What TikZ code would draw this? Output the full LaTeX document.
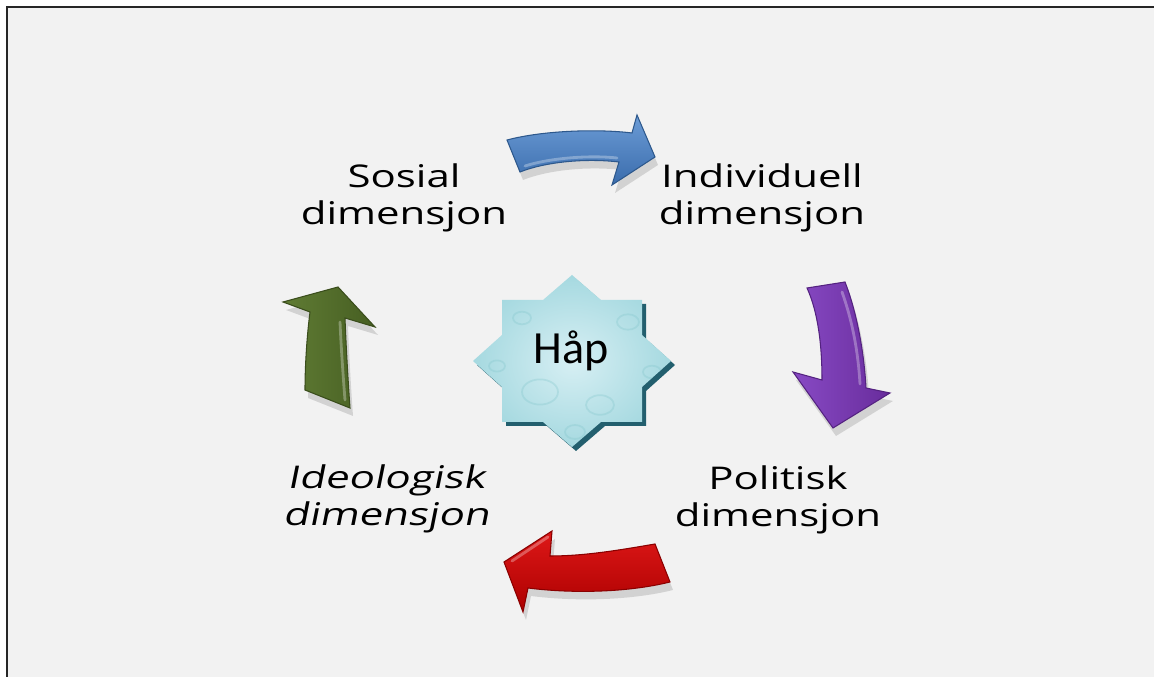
\documentclass[tikz,border=0pt]{standalone}
\usepackage{fontspec}
\newfontfamily\dimfont[FakeStretch=1.34]{Open Sans}
\newfontfamily\dimslfont[FakeStretch=1.34,FakeSlant=0.2]{Open Sans}
\newfontfamily\hapfont{Carlito}
\definecolor{bgcol}{HTML}{F2F2F2}
\definecolor{starcol}{HTML}{B6E2EA}
\definecolor{starshade}{HTML}{235F6E}
\definecolor{bluetop}{RGB}{108,156,214}
\definecolor{bluebot}{RGB}{58,108,172}
\definecolor{blueline}{RGB}{45,88,140}
\definecolor{purpleleft}{RGB}{136,74,196}
\definecolor{purpleright}{RGB}{104,44,156}
\definecolor{purpleline}{RGB}{84,34,128}
\definecolor{redtop}{RGB}{222,24,24}
\definecolor{redbot}{RGB}{172,0,0}
\definecolor{redline}{RGB}{138,0,0}
\definecolor{greenleft}{RGB}{96,124,52}
\definecolor{greenright}{RGB}{70,94,34}
\definecolor{greenline}{RGB}{58,77,28}
\tikzset{
  arrowshadow/.style={fill=black, opacity=0.13},
  dimlabel/.style={align=center, inner sep=0pt, font=\dimfont\fontsize{8.9}{10.6}\selectfont},
  dimslanted/.style={dimlabel, font=\dimslfont\fontsize{8.9}{10.6}\selectfont},
  highlight/.style={white, opacity=0.3, line width=0.8pt, line cap=round}
}
\begin{document}
\begin{tikzpicture}[x=0.01cm, y=-0.01cm]
			\useasboundingbox (0,0) rectangle (1154,677);
			\fill[white] (0,0) rectangle (1154,677);
			\fill[bgcol] (7,7) rectangle (1154,677);
			\draw[line width=0.6pt, black!85] (7,677) -- (7,7) -- (1154,7);

			\begin{scope}[every node/.style={dimlabel}]
				\node (sosial) at (404,198) {Sosial\\dimensjon};
				\node (individuell) at (762,198) {Individuell\\dimensjon};
				\node (politisk) at (778,500) {Politisk\\dimensjon};
				\node[dimslanted] (ideologisk) at (386,499) {Ideologisk\\dimensjon};
			\end{scope}

			\begin{scope}[shift={(3,8)}]
				\fill[arrowshadow] (507,140) .. controls (545,130) and (600,129) .. (632,133) -- (637,115) -- (655,157) -- (612,185) -- (619,162) .. controls (585,158) and (545,162) .. (520,172) -- cycle;
				\fill[arrowshadow] (807,288) -- (845,282) .. controls (856,310) and (864,350) .. (866,388) -- (890,393) -- (833,428) -- (793,372) -- (822,380) .. controls (822,345) and (818,312) .. (807,288) -- cycle;
				\fill[arrowshadow] (655,544) .. controls (620,550) and (585,556) .. (550,556) -- (552,531) -- (504,562) -- (523,612) -- (528,588) .. controls (575,594) and (630,592) .. (670,582) -- cycle;
				\fill[arrowshadow] (305,390) .. controls (305,365) and (307,335) .. (310,312) -- (283,302) -- (338,287) -- (375,327) -- (345,318) .. controls (346,345) and (348,380) .. (350,408) -- cycle;
			\end{scope}

			\draw[top color=bluetop, bottom color=bluebot, draw=blueline, line width=0.3pt]
				(507,140) .. controls (545,130) and (600,129) .. (632,133) -- (637,115) -- (655,157) -- (612,185) -- (619,162) .. controls (585,158) and (545,162) .. (520,172) -- cycle;
			\draw[highlight] (525,166) .. controls (550,158) and (590,155) .. (617,158);

			\draw[left color=purpleleft, right color=purpleright, draw=purpleline, line width=0.3pt]
				(807,288) -- (845,282) .. controls (856,310) and (864,350) .. (866,388) -- (890,393) -- (833,428) -- (793,372) -- (822,380) .. controls (822,345) and (818,312) .. (807,288) -- cycle;
			\draw[highlight] (842,292) .. controls (852,320) and (858,350) .. (860,384);

			\draw[top color=redtop, bottom color=redbot, draw=redline, line width=0.3pt]
				(655,544) .. controls (620,550) and (585,556) .. (550,556) -- (552,531) -- (504,562) -- (523,612) -- (528,588) .. controls (575,594) and (630,592) .. (670,582) -- cycle;
			\draw[highlight] (548,537) -- (512,561);

			\draw[left color=greenleft, right color=greenright, draw=greenline, line width=0.3pt]
				(305,390) .. controls (305,365) and (307,335) .. (310,312) -- (283,302) -- (338,287) -- (375,327) -- (345,318) .. controls (346,345) and (348,380) .. (350,408) -- cycle;
			\draw[highlight] (340,322) .. controls (341,345) and (343,375) .. (345,400);

			\fill[starshade, shift={(4,4)}] (572,275) -- (601,300) -- (642,300) -- (642,335) -- (671,361) -- (642,387) -- (642,422) -- (601,422) -- (572,447) -- (543,422) -- (502,422) -- (502,387) -- (473,361) -- (502,335) -- (502,300) -- (543,300) -- cycle;
			\begin{scope}
				\path[clip] (572,275) -- (601,300) -- (642,300) -- (642,335) -- (671,361) -- (642,387) -- (642,422) -- (601,422) -- (572,447) -- (543,422) -- (502,422) -- (502,387) -- (473,361) -- (502,335) -- (502,300) -- (543,300) -- cycle;
				\shade[inner color=starcol!55!white, outer color=starcol!90!teal] (470,272) rectangle (675,450);
				\foreach \x/\y/\r in {540/392/18, 600/405/14, 628/322/11, 522/318/9, 575/432/10, 652/372/9, 497/366/8} {
					\draw[starcol!70!teal, opacity=0.3, line width=0.5pt] (\x,\y) ellipse ({\r} and {0.7*\r});
				}
			\end{scope}
			\node[font=\hapfont\fontsize{13.1}{15}\selectfont, inner sep=0pt, anchor=base] (hap) at (571,364) {Håp};
		\end{tikzpicture}
\end{document}
